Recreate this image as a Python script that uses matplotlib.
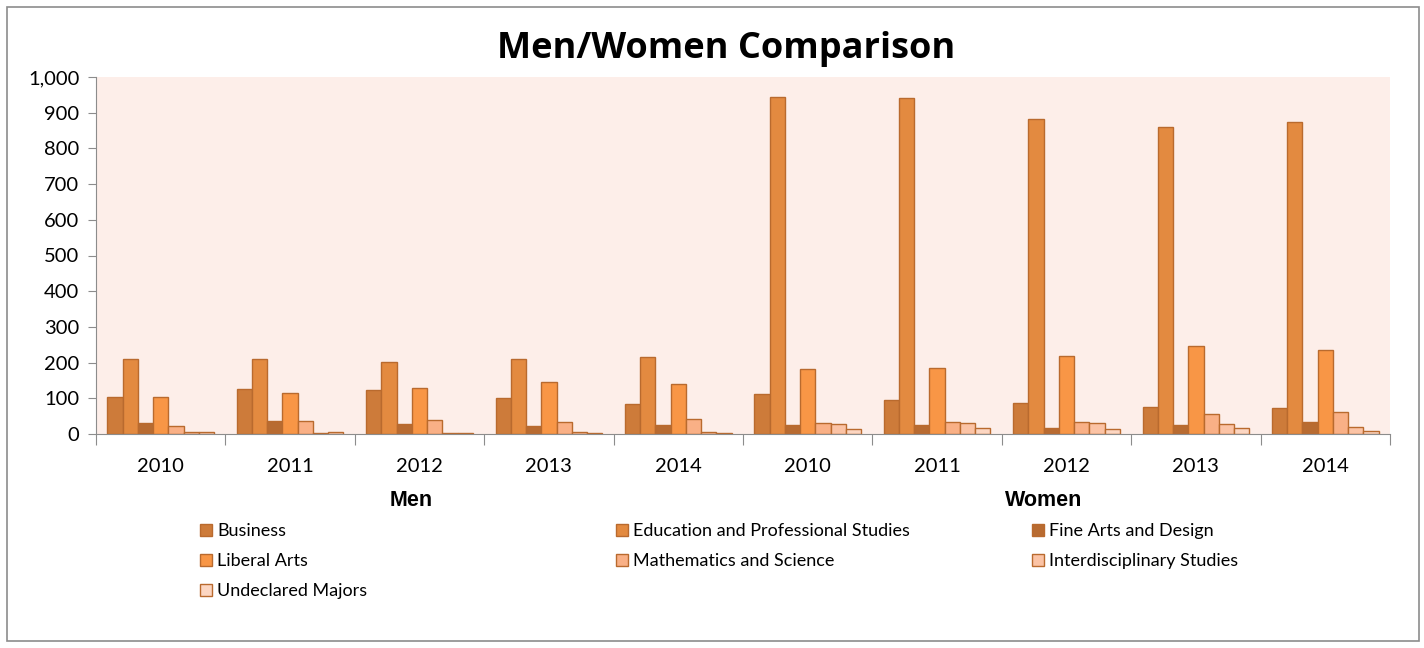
import matplotlib.pyplot as plt
from matplotlib.patches import Rectangle
import numpy as np

plt.rcParams['font.family'] = ['Lato', 'DejaVu Sans']

# category axis: two levels (gender, year)
years = ['2010', '2011', '2012', '2013', '2014'] * 2
genders = ['Men', 'Women']

majors = ['Business', 'Education and Professional Studies', 'Fine Arts and Design',
          'Liberal Arts', 'Mathematics and Science', 'Interdisciplinary Studies',
          'Undeclared Majors']

# values per major, Men 2010-2014 then Women 2010-2014
business = [105, 126, 124, 100, 84, 111, 94, 86, 76, 72]
education = [209, 209, 203, 211, 216, 944, 940, 883, 860, 875]
fine_arts = [30, 36, 27, 22, 24, 25, 25, 18, 26, 34]
liberal_arts = [104, 115, 130, 146, 140, 183, 185, 219, 246, 235]
math_science = [22, 37, 38, 35, 42, 32, 34, 34, 57, 63]
interdisc = [6, 4, 3, 5, 6, 29, 31, 30, 29, 21]
undeclared = [5, 6, 3, 3, 2, 15, 18, 13, 17, 9]

series = [business, education, fine_arts, liberal_arts, math_science, interdisc, undeclared]
colors = ['#CD7B3A', '#E38A40', '#B86B31', '#F89646', '#F9B086', '#FBC3A5', '#FCD6C2']
edge = '#B96A2E'

fig = plt.figure(figsize=(14.24, 6.48), dpi=100)
ax = fig.add_axes([96 / 1424, 1 - 434 / 648, (1390 - 96) / 1424, (434 - 77) / 648])
ax.set_facecolor('#FDEEE9')

# outer chart border
fig.patches.append(Rectangle((7 / 1424, 7 / 648), 1412 / 1424, 634 / 648, transform=fig.transFigure,
                             fill=False, edgecolor='#8C8C8C', linewidth=1.2))

n = len(series)
x = np.arange(len(years))
w = 1 / (n + 1.5)
handles = []
for i, (name, vals, c) in enumerate(zip(majors, series, colors)):
    off = (i - (n - 1) / 2) * w
    b = ax.bar(x + off, vals, width=w, color=c, edgecolor=edge, linewidth=1.0, label=name)
    handles.append(b)

ax.set_xlim(-0.5, len(years) - 0.5)
ax.set_ylim(0, 1000)
ax.set_yticks(range(0, 1001, 100))
ax.set_yticklabels([f'{v:,}' for v in range(0, 1001, 100)], fontsize=14.5)
ax.tick_params(axis='y', length=6, color='#8C8C8C', pad=6)

ax.set_xticks(np.arange(-0.5, len(years)), minor=False)
ax.set_xticklabels([])
ax.tick_params(axis='x', which='major', length=8, color='#8C8C8C')
ax.set_xticks(x, minor=True)
ax.set_xticklabels(years, minor=True, fontsize=14.5)
ax.tick_params(axis='x', which='minor', length=0, pad=17)

for s in ['top', 'right']:
    ax.spines[s].set_visible(False)
for s in ['left', 'bottom']:
    ax.spines[s].set_color('#8C8C8C')

# gender labels under the year labels
fig.text(411 / 1424, 1 - 500 / 648, genders[0], ha='center', va='center',
         fontsize=15.5, fontweight='bold', family='Liberation Sans')
fig.text(1044 / 1424, 1 - 500 / 648, genders[1], ha='center', va='center',
         fontsize=15.5, fontweight='bold', family='Liberation Sans')

fig.text(726 / 1424, 1 - 58 / 648, 'Men/Women Comparison', ha='center', va='baseline',
         fontsize=26, fontweight='bold', family='Open Sans')

# legend: three columns laid out like the reference
cols = [[0, 3, 6], [1, 4], [2, 5]]
col_x = [200, 616, 1032]
for cx, idx in zip(col_x, cols):
    fig.legend([handles[k] for k in idx], [majors[k] for k in idx],
               loc='upper left', bbox_to_anchor=(cx / 1424, 1 - 523 / 648),
               frameon=False, fontsize=13, handlelength=0.67, handleheight=0.67,
               handletextpad=0.28, labelspacing=0.78, borderaxespad=0, borderpad=0)

fig.savefig('out.png', dpi=100)
